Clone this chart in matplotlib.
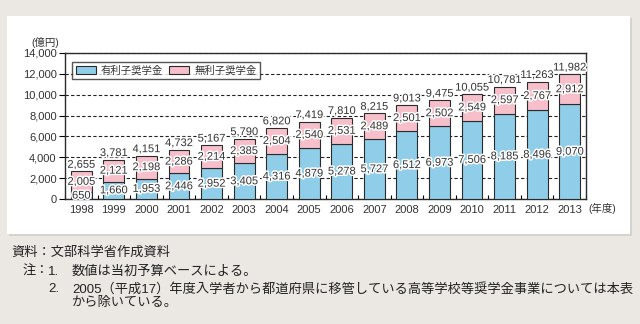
import numpy as np
import matplotlib
matplotlib.use("Agg")
import matplotlib.pyplot as plt
import matplotlib.patheffects as pe
from matplotlib.patches import Rectangle, Patch

plt.rcParams['font.family'] = ['Liberation Sans', 'Noto Sans CJK JP', 'DejaVu Sans']

# 年度
years = ["1998", "1999", "2000", "2001", "2002", "2003", "2004", "2005",
         "2006", "2007", "2008", "2009", "2010", "2011", "2012", "2013"]
# 有利子奨学金（億円）
yuurishi = [650, 1660, 1953, 2446, 2952, 3405, 4316, 4879,
            5278, 5727, 6512, 6973, 7506, 8185, 8496, 9070]
# 無利子奨学金（億円）
murishi = [2005, 2121, 2198, 2286, 2214, 2385, 2504, 2540,
           2531, 2489, 2501, 2502, 2549, 2597, 2767, 2912]
# 合計（億円、端数処理のため内訳の和と1ずれる年がある）
goukei = [2655, 3781, 4151, 4732, 5167, 5790, 6820, 7419,
          7810, 8215, 9013, 9475, 10055, 10781, 11263, 11982]

blue = "#8fcde8"
pink = "#f6bfca"
edge = "#2b2b2b"
txt = "#333333"

fig = plt.figure(figsize=(6.4, 3.24), dpi=100)
fig.patch.set_facecolor("#ebe8e4")

W, H = 640, 324
# 白いパネルと影（軸より下に描く）
fig.patches.append(Rectangle((9 / W, 1 - 236 / H), 623 / W, 218 / H,
                             transform=fig.transFigure, facecolor="#d6d3cf",
                             edgecolor="none", zorder=-2))
fig.patches.append(Rectangle((7 / W, 1 - 234 / H), 623 / W, 218 / H,
                             transform=fig.transFigure, facecolor="white",
                             edgecolor="none", zorder=-1))

ax = fig.add_axes([65 / W, 1 - 199 / H, 521 / W, 146 / H])
ax.set_facecolor("white")

x = np.arange(len(years))
y1 = np.array(yuurishi)
y2 = np.array(murishi)
bw = 0.64

ax.bar(x, y1, bw, color=blue, edgecolor=edge, linewidth=0.8, zorder=3)
ax.bar(x, y2, bw, bottom=y1, color=pink, edgecolor=edge, linewidth=0.8, zorder=3)

halo = [pe.withStroke(linewidth=2.2, foreground="white")]
for i in range(len(years)):
    ax.text(x[i], y1[i] / 2, f"{y1[i]:,}", ha="center", va="center",
            fontsize=8, color=txt, path_effects=halo, zorder=5)
    ax.text(x[i], y1[i] + y2[i] / 2, f"{y2[i]:,}", ha="center", va="center",
            fontsize=8, color=txt, path_effects=halo, zorder=5)
    ax.text(x[i], y1[i] + y2[i] + 150, f"{goukei[i]:,}", ha="center", va="bottom",
            fontsize=8, color=txt, path_effects=halo, zorder=5)

ax.set_xlim(-0.5, len(years) - 0.5)
ax.set_ylim(0, 14000)
ax.set_yticks(np.arange(0, 14001, 2000))
ax.set_yticklabels([f"{v:,}" for v in range(0, 14001, 2000)], fontsize=8, color=txt)
ax.yaxis.grid(True, linestyle=(0, (3, 2)), color="#222222", linewidth=0.8, zorder=1)
ax.tick_params(axis="y", direction="out", length=4, width=0.8, pad=2)

ax.set_xticks(x)
ax.set_xticklabels(years, fontsize=8, color=txt)
ax.tick_params(axis="x", length=0, pad=4)
# カテゴリ境界の小さい目盛り
ax.set_xticks(np.arange(-0.5, len(years), 1.0), minor=True)
ax.tick_params(axis="x", which="minor", direction="in", length=3, width=0.8)

for s in ax.spines.values():
    s.set_linewidth(1.0)
    s.set_color(edge)

ax.text(-0.038, 1.075, "(億円)", transform=ax.transAxes, fontsize=7.5,
        color=txt, ha="center", va="center")
ax.text(1.004, -0.062, "(年度)", transform=ax.transAxes, fontsize=7.5,
        color=txt, ha="left", va="center")

handles = [Patch(facecolor=blue, edgecolor=edge, linewidth=0.8, label="有利子奨学金"),
           Patch(facecolor=pink, edgecolor=edge, linewidth=0.8, label="無利子奨学金")]
leg = ax.legend(handles=handles, loc="upper left", bbox_to_anchor=(0.014, 0.94),
                ncol=2, fontsize=7.5, frameon=True, fancybox=False,
                edgecolor=edge, borderaxespad=0, handlelength=1.9,
                handleheight=0.7, handletextpad=0.5, columnspacing=0.6,
                borderpad=0.35)
leg.get_frame().set_linewidth(1.0)
leg.set_zorder(6)
for t in leg.get_texts():
    t.set_color(txt)

# 資料・注
nf = 9.5
nc = "#222222"
fig.text(11 / W, 1 - 253 / H, "資料：文部科学省作成資料", fontsize=nf, va="center", color=nc)
fig.text(23 / W, 1 - 272 / H, "注：", fontsize=nf, va="center", color=nc)
fig.text(48 / W, 1 - 272 / H, "1.", fontsize=nf, va="center", color=nc)
fig.text(72 / W, 1 - 272 / H, "数値は当初予算ベースによる。", fontsize=nf, va="center", color=nc)
fig.text(48 / W, 1 - 289 / H, "2.", fontsize=nf, va="center", color=nc)
fig.text(72 / W, 1 - 289 / H,
         "2005（平成17）年度入学者から都道府県に移管している高等学校等奨学金事業については本表",
         fontsize=nf, va="center", color=nc)
fig.text(72 / W, 1 - 303 / H, "から除いている。", fontsize=nf, va="center", color=nc)

fig.savefig("out.png", dpi=100, facecolor=fig.get_facecolor())
